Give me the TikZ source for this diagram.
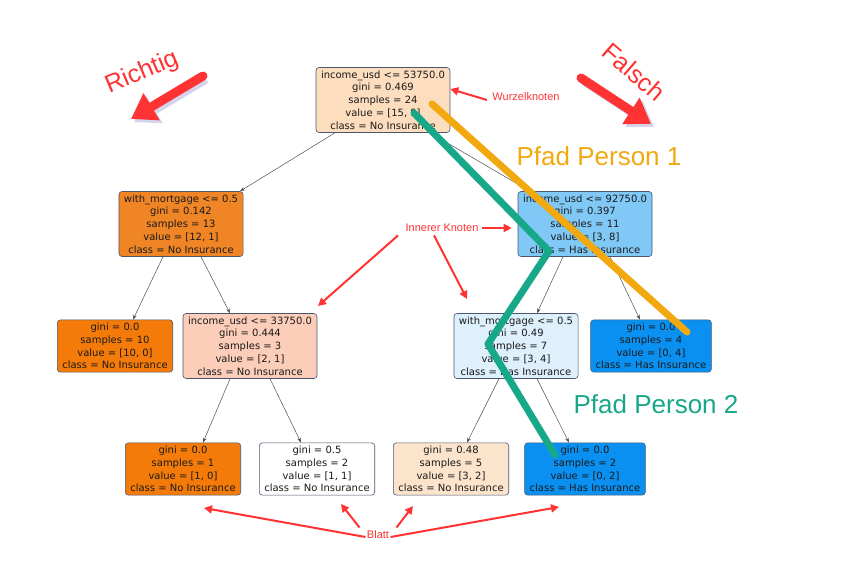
\documentclass[tikz,border=0pt]{standalone}
\usepackage{fontspec}
\setmainfont{DejaVu Sans}
\newfontfamily\annfont{Liberation Sans}
\usetikzlibrary{arrows.meta,calc}
\definecolor{cRoot}{HTML}{FCDDBE}
\definecolor{cLone}{HTML}{F08526}
\definecolor{cLeafO}{HTML}{F47B0A}
\definecolor{cSalmon}{HTML}{FCCDB9}
\definecolor{cPeach}{HTML}{FCE3CB}
\definecolor{cRone}{HTML}{80C8F5}
\definecolor{cPaleB}{HTML}{DDF0FC}
\definecolor{cLeafB}{HTML}{0A90F0}
\definecolor{cBorder}{HTML}{4A5670}
\definecolor{cEdge}{HTML}{505050}
\definecolor{cRed}{HTML}{FF3333}
\definecolor{cShadow}{HTML}{D4D4EC}
\definecolor{cOrangeP}{HTML}{F2A90F}
\definecolor{cGreenP}{HTML}{16A888}
\definecolor{cText}{HTML}{1A1A1A}
\tikzset{
  treenode/.style={draw=cBorder, line width=0.6pt, rounded corners=3pt, align=center,
    inner xsep=5pt, inner ysep=3pt, text=cText, font=\fontsize{10}{12.8}\selectfont},
  edge/.style={draw=cEdge, line width=0.5pt, -{Stealth[length=5pt,width=3.5pt]}},
  ann/.style={text=cRed, font=\annfont\fontsize{11}{13}\selectfont},
  annarrow/.style={draw=cRed, line width=2pt, -{Triangle[length=8pt,width=8pt]}},
  bigarrow/.style={draw=cRed, line width=9pt, -{Triangle[length=24pt,width=30pt]}},
  bigshadow/.style={draw=cShadow, line width=9pt, -{Triangle[length=24pt,width=30pt]}},
  bigtext/.style={font=\annfont\fontsize{25}{29}\selectfont},
  pathline/.style={line width=7pt, line cap=round, line join=round},
  pathlabel/.style={font=\annfont\fontsize{26}{30}\selectfont}
}
\begin{document}
\begin{tikzpicture}[x=1pt,y=-1pt]
\path[use as bounding box, fill=white] (0,0) rectangle (852,579);

% tree nodes
\node[treenode, fill=cRoot] (root) at (383,100) {income\_usd <= 53750.0\\gini = 0.469\\samples = 24\\value = [15, 9]\\class = No Insurance};
\node[treenode, fill=cLone] (l1) at (181,224) {with\_mortgage <= 0.5\\gini = 0.142\\samples = 13\\value = [12, 1]\\class = No Insurance};
\node[treenode, fill=cRone] (r1) at (585,224) {income\_usd <= 92750.0\\gini = 0.397\\samples = 11\\value = [3, 8]\\class = Has Insurance};
\node[treenode, fill=cLeafO] (lf10) at (115,346) {gini = 0.0\\samples = 10\\value = [10, 0]\\class = No Insurance};
\node[treenode, fill=cSalmon] (n33) at (250,346) {income\_usd <= 33750.0\\gini = 0.444\\samples = 3\\value = [2, 1]\\class = No Insurance};
\node[treenode, fill=cPaleB] (wmr) at (516,346) {with\_mortgage <= 0.5\\gini = 0.49\\samples = 7\\value = [3, 4]\\class = Has Insurance};
\node[treenode, fill=cLeafB] (lf4) at (651,346) {gini = 0.0\\samples = 4\\value = [0, 4]\\class = Has Insurance};
\node[treenode, fill=cLeafO] (b1) at (183,469) {gini = 0.0\\samples = 1\\value = [1, 0]\\class = No Insurance};
\node[treenode, fill=white] (b2) at (317,469) {gini = 0.5\\samples = 2\\value = [1, 1]\\class = No Insurance};
\node[treenode, fill=cPeach] (b3) at (451,469) {gini = 0.48\\samples = 5\\value = [3, 2]\\class = No Insurance};
\node[treenode, fill=cLeafB] (b4) at (585,469) {gini = 0.0\\samples = 2\\value = [0, 2]\\class = Has Insurance};

% tree edges
\draw[edge] ([xshift=-48pt]root.south) -- ([xshift=59pt]l1.north);
\draw[edge] ([xshift=47pt]root.south) -- ([xshift=-55pt]r1.north);
\draw[edge] ([xshift=-18pt]l1.south) -- ([xshift=18pt]lf10.north);
\draw[edge] ([xshift=20pt]l1.south) -- ([xshift=-20pt]n33.north);
\draw[edge] ([xshift=-22pt]r1.south) -- ([xshift=21pt]wmr.north);
\draw[edge] ([xshift=25pt]r1.south) -- ([xshift=-11pt]lf4.north);
\draw[edge] ([xshift=-20pt]n33.south) -- ([xshift=20pt]b1.north);
\draw[edge] ([xshift=20pt]n33.south) -- ([xshift=-16pt]b2.north);
\draw[edge] ([xshift=-17pt]wmr.south) -- ([xshift=16pt]b3.north);
\draw[edge] ([xshift=21pt]wmr.south) -- ([xshift=-16pt]b4.north);

% big arrows with labels
\coordinate (rA) at (203,76);
\coordinate (rB) at (131,119);
\coordinate (fA) at (581,78);
\coordinate (fB) at (651,124);
\draw[bigshadow] ([shift={(3,3)}]rA) -- ([shift={(3,3)}]rB);
\draw[bigarrow, line cap=round] (rA) -- (rB);
\draw[bigshadow] ([shift={(3,3)}]fA) -- ([shift={(3,3)}]fB);
\draw[bigarrow, line cap=round] (fA) -- (fB);
\node[bigtext, text=cRed, rotate=23] (richtig) at (142,73) {Richtig};
\node[bigtext, text=cRed, rotate=-41] (falsch) at (634,72) {Falsch};

% annotations
\node[ann] (wurzel) at (526,97) {Wurzelknoten};
\draw[annarrow] (wurzel.west) ++(-2,3) coordinate (wT) (wT) -- (root.east |- 0,89);
\node[ann] (inner) at (442,228) {Innerer Knoten};
\coordinate (iL) at (318,306);
\coordinate (iD) at (467,299);
\draw[annarrow] (inner.east) -- ([xshift=-6pt, yshift=-4pt]r1.west);
\draw[annarrow] ([xshift=-4pt]inner.south west) -- (iL);
\draw[annarrow] ([xshift=-8pt]inner.south) -- (iD);
\node[ann] (blatt) at (378,535) {Blatt};
\coordinate (t1) at (204,508);
\coordinate (t2) at (341,504);
\coordinate (t3) at (413,506);
\coordinate (t4) at (559,507);
\draw[annarrow] ([xshift=2pt,yshift=-2pt]blatt.west) -- (t1);
\draw[annarrow] ([xshift=-4pt]blatt.north west) -- (t2);
\draw[annarrow] ([xshift=4pt]blatt.north east) -- (t3);
\draw[annarrow] ([xshift=-2pt,yshift=-2pt]blatt.east) -- (t4);

% paths
\coordinate (p1a) at (432,104);
\coordinate (p1b) at (687,332);
\draw[pathline, draw=cOrangeP] (p1a) -- (p1b);
\coordinate (p2a) at (414,113);
\coordinate (p2b) at (549,251);
\coordinate (p2c) at (488,344);
\coordinate (p2d) at (555,455);
\draw[pathline, draw=cGreenP] (p2a) -- (p2b) -- (p2c) -- (p2d);
\node[pathlabel, text=cOrangeP] (pp1) at (599,156) {Pfad Person 1};
\node[pathlabel, text=cGreenP] (pp2) at (656,404) {Pfad Person 2};
\end{tikzpicture}
\end{document}
